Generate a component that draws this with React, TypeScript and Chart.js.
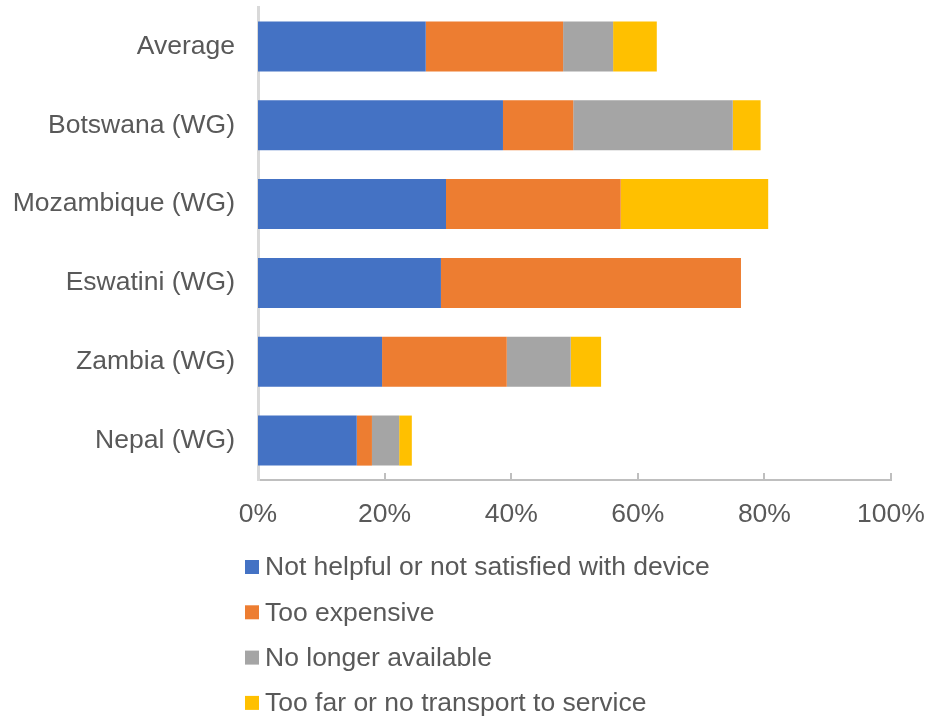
import React, { useEffect, useRef } from "react";
import { Chart, registerables } from "chart.js";

Chart.register(...registerables);

const categories = ["Average", "Botswana (WG)", "Mozambique (WG)", "Eswatini (WG)", "Zambia (WG)", "Nepal (WG)"];
const seriesNames = [
  "Not helpful or not satisfied with device",
  "Too expensive",
  "No longer available",
  "Too far or no transport to service",
];
const notHelpful = [26.5, 38.7, 29.7, 28.9, 19.6, 15.6];
const tooExpensive = [21.7, 11.1, 27.6, 47.4, 19.7, 2.4];
const noLongerAvailable = [7.9, 25.2, 0, 0, 10.1, 4.3];
const tooFar = [6.9, 4.4, 23.3, 0, 4.8, 2.0];
const xTicks = [0, 20, 40, 60, 80, 100];

const colors = ["#4472C4", "#ED7D31", "#A5A5A5", "#FFC000"];
const FONT = "'Liberation Sans', Arial, sans-serif";
const TEXT = "#595959";

const innerTicks = {
  id: "innerTicks",
  afterDraw(chart: any) {
    const { ctx, scales, chartArea } = chart;
    const xs = scales.x;
    ctx.save();
    ctx.strokeStyle = "#BFBFBF";
    ctx.lineWidth = 2;
    xTicks.forEach((v) => {
      if (v === 0) return;
      const px = Math.round(xs.getPixelForValue(v));
      ctx.beginPath();
      ctx.moveTo(px, chartArea.bottom);
      ctx.lineTo(px, chartArea.bottom - 7);
      ctx.stroke();
    });
    ctx.restore();
  },
};

const verticalLegend = {
  id: "verticalLegend",
  afterDraw(chart: any) {
    const { ctx, chartArea } = chart;
    ctx.save();
    ctx.font = `26.5px ${FONT}`;
    ctx.textBaseline = "middle";
    ctx.textAlign = "left";
    chart.data.datasets.forEach((ds: any, i: number) => {
      const cy = chartArea.bottom + 87 + i * 45.3;
      const bx = chartArea.left - 13;
      ctx.fillStyle = ds.backgroundColor;
      ctx.fillRect(bx, cy - 7, 14, 14);
      ctx.fillStyle = TEXT;
      ctx.fillText(ds.label, bx + 20, cy + 1);
    });
    ctx.restore();
  },
};

export default function App() {
  const ref = useRef<HTMLCanvasElement>(null);
  useEffect(() => {
    const values = [notHelpful, tooExpensive, noLongerAvailable, tooFar];
    const chart = new Chart(ref.current as HTMLCanvasElement, {
      type: "bar",
      data: {
        labels: categories,
        datasets: values.map((d, i) => ({
          label: seriesNames[i],
          data: d,
          backgroundColor: colors[i],
          borderWidth: 0,
          barPercentage: 0.635,
          categoryPercentage: 1,
        })),
      },
      options: {
        indexAxis: "y",
        responsive: false,
        animation: false,
        layout: { padding: { top: 7, right: 35, bottom: 177, left: 0 } },
        plugins: { legend: { display: false }, tooltip: { enabled: false } },
        scales: {
          x: {
            stacked: true,
            min: 0,
            max: 100,
            afterBuildTicks: (s: any) => {
              s.ticks = xTicks.map((v) => ({ value: v }));
            },
            afterFit: (s: any) => {
              s.height = 60;
              s.paddingLeft = 0;
              s.paddingRight = 0;
              s.paddingTop = 0;
              s.paddingBottom = 0;
            },
            grid: { display: false, drawTicks: false },
            border: { display: true, color: "#BFBFBF", width: 2 },
            ticks: {
              padding: 19,
              color: TEXT,
              font: { family: FONT, size: 26.5 },
              callback: (v: any) => `${v}%`,
              maxRotation: 0,
            },
          },
          y: {
            stacked: true,
            afterFit: (s: any) => {
              s.width = 258;
              s.paddingLeft = 0;
              s.paddingRight = 0;
              s.paddingTop = 0;
              s.paddingBottom = 0;
            },
            grid: { display: false, drawTicks: false },
            border: { display: true, color: "#D9D9D9", width: 3 },
            ticks: {
              padding: 23,
              color: TEXT,
              font: { family: FONT, size: 26.5 },
            },
          },
        },
      },
      plugins: [innerTicks, verticalLegend],
    });
    return () => chart.destroy();
  }, []);
  return (
    <div style={{ position: "fixed", left: 0, top: 0, width: 926, height: 717, background: "#fff" }}>
      <canvas ref={ref} width={926} height={717} style={{ display: "block" }} />
    </div>
  );
}
